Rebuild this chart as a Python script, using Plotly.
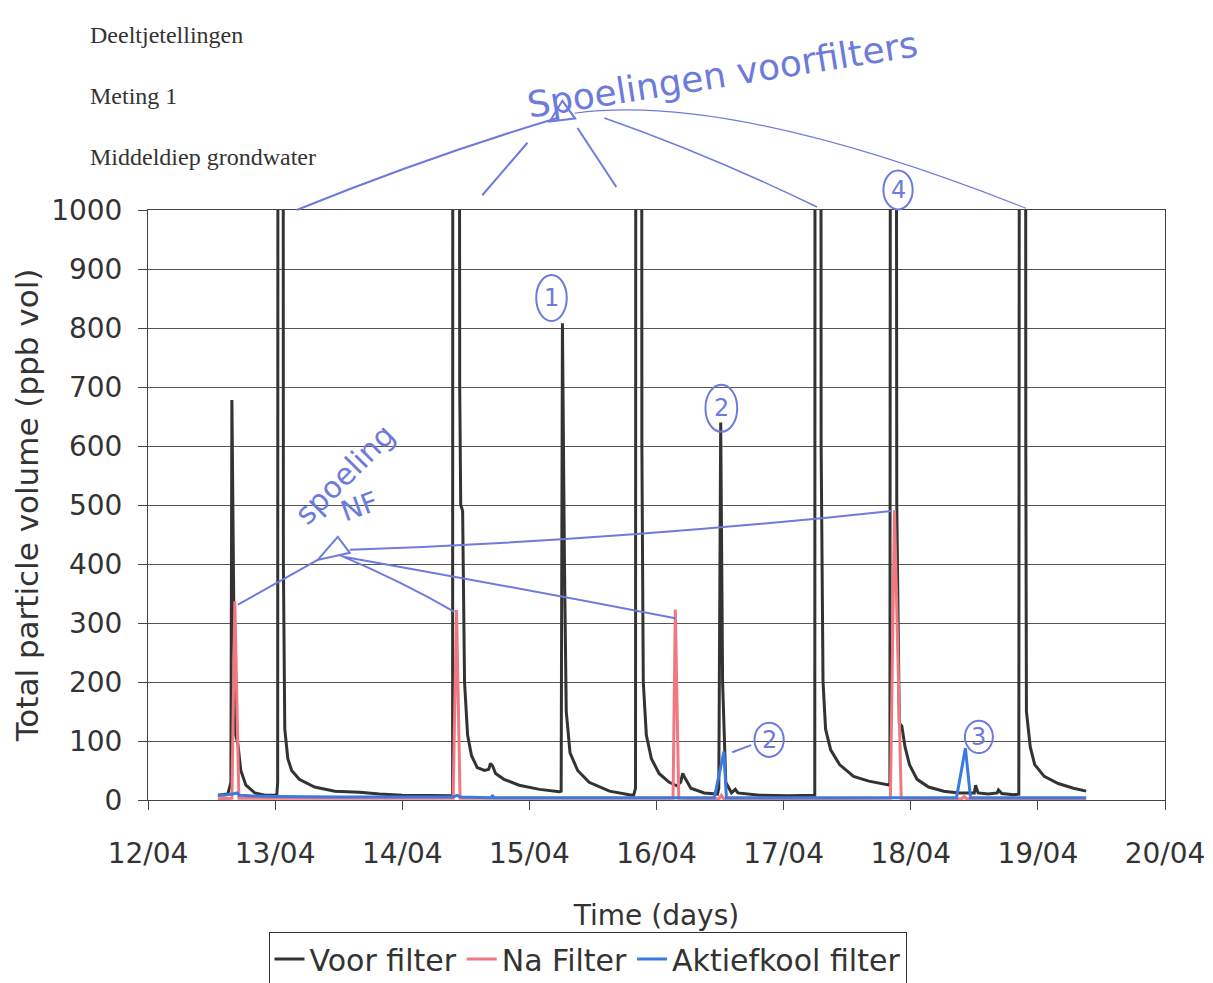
import pandas as pd
import plotly.graph_objects as go

# ---------------- data (days after 12/04 00:00, ppb vol) ----------------
voor_days = [0.55, 0.628, 0.652, 0.66, 0.676, 0.69, 0.707, 0.73, 0.77, 0.84, 0.92, 1.013,
             1.02, 1.025, 1.06, 1.065, 1.076, 1.10, 1.13, 1.19, 1.31, 1.47, 1.665, 1.82, 2.0,
             2.215, 2.396, 2.40, 2.443, 2.452, 2.46, 2.475, 2.49, 2.514, 2.545, 2.59, 2.647, 2.68,
             2.694, 2.71, 2.734, 2.80, 2.92, 3.08, 3.236, 3.25, 3.26, 3.276, 3.29, 3.32, 3.38,
             3.47, 3.63, 3.786, 3.82, 3.835, 3.84, 3.88, 3.885, 3.896, 3.92, 3.96, 4.02, 4.10,
             4.16, 4.19, 4.206, 4.23, 4.27, 4.375, 4.48, 4.49, 4.505, 4.52, 4.545, 4.59, 4.62,
             4.64, 4.81, 5.04, 5.245, 5.25, 5.29, 5.295, 5.31, 5.33, 5.37, 5.44, 5.55, 5.67,
             5.79, 5.836, 5.845, 5.88, 5.89, 5.91, 5.93, 5.955, 5.99, 6.05, 6.14, 6.26, 6.38,
             6.50, 6.51, 6.53, 6.61, 6.68, 6.69, 6.716, 6.81, 6.85, 6.86, 6.90, 6.905, 6.91,
             6.94, 6.975, 7.05, 7.16, 7.28, 7.38]
voor_vals = [8, 10, 30, 678, 300, 110, 95, 50, 25, 12, 8, 8,
             30, 3000, 3000, 400, 120, 70, 50, 35, 22, 15, 13, 10, 8,
             7, 7, 3000, 3000, 700, 500, 490, 200, 110, 75, 55, 50, 52,
             62, 58, 45, 35, 25, 18, 14, 15, 808, 400, 150, 80, 50,
             30, 15, 9, 8, 20, 3000, 3000, 600, 200, 110, 70, 45, 30,
             24, 30, 45, 35, 20, 12, 10, 20, 640, 200, 30, 12, 18,
             12, 8, 7, 8, 3000, 3000, 600, 200, 120, 85, 60, 40, 32,
             27, 25, 3000, 3000, 500, 130, 125, 90, 60, 35, 22, 15, 12,
             12, 25, 12, 10, 12, 17, 11, 9, 10, 3000, 3000, 600, 150,
             90, 60, 40, 28, 20, 15]

na_days = [0.55, 0.66, 0.683, 0.715, 2.40, 2.427, 2.455, 4.13, 4.148, 4.175, 4.49, 4.51,
           4.53, 5.84, 5.872, 5.925, 6.40, 6.42, 6.44, 7.38]
na_vals = [2, 3, 337, 3, 3, 322, 3, 3, 323, 3, 2, 8,
           2, 3, 491, 3, 2, 6, 2, 2]

ak_days = [0.55, 0.60, 0.66, 0.70, 0.72, 0.80, 1.00, 1.50, 2.40, 2.43, 2.46, 2.70, 2.71,
           2.72, 4.455, 4.53, 4.55, 6.36, 6.43, 6.47, 7.38]
ak_vals = [8, 8, 10, 12, 8, 7, 6, 5, 5, 8, 5, 4, 8,
           4, 4, 82, 4, 4, 88, 4, 4]

series_names = ["Voor filter", "Na Filter", "Aktiefkool filter"]
series_colors = ["#333333", "#f07880", "#3b7be0"]

header_lines = ["Deeltjetellingen", "Meting 1", "Middeldiep grondwater"]
x_title = "Time (days)"
y_title = "Total particle volume (ppb vol)"

base = pd.Timestamp("2006-04-12")
X_DAYS = 8.0
Y_MAX = 1000.0


def to_time(days):
    return base + pd.to_timedelta(days, unit="D")


fig = go.Figure()
for name, color, d, v in zip(series_names, series_colors,
                             [voor_days, na_days, ak_days],
                             [voor_vals, na_vals, ak_vals]):
    fig.add_trace(go.Scatter(x=to_time(d), y=v, mode="lines", name=name,
                             line=dict(color=color, width=3)))

# ---------------- handwritten pen annotations ----------------
PEN = "#6c7bdc"


def P(d, v):
    """(day, value) -> paper coordinates"""
    return d / X_DAYS, v / Y_MAX


def path(pts, curve=False):
    c = [P(*p) for p in pts]
    s = f"M {c[0][0]:.4f},{c[0][1]:.4f}"
    if curve and len(c) == 3:
        s += f" Q {c[1][0]:.4f},{c[1][1]:.4f} {c[2][0]:.4f},{c[2][1]:.4f}"
    else:
        for x, y in c[1:]:
            s += f" L {x:.4f},{y:.4f}"
    return s


shapes = []


def pen_path(pts, curve=False, w=2, close=False):
    s = path(pts, curve)
    if close:
        s += " Z"
    shapes.append(dict(type="path", xref="paper", yref="paper", path=s,
                       line=dict(color=PEN, width=w)))


# "Spoelingen voorfilters" leaders
pen_path([(1.17, 1000), (2.2, 1090), (3.22, 1156)], curve=True)
pen_path([(2.63, 1025), (2.985, 1114)])
pen_path([(3.684, 1039), (3.378, 1139)])
pen_path([(3.59, 1156), (4.4, 1095), (5.263, 1005)], curve=True, w=1.5)
pen_path([(3.354, 1164), (4.6, 1200), (6.905, 1003)], curve=True, w=1.2)
pen_path([(3.16, 1150), (3.26, 1185), (3.36, 1155)], close=True)
# "spoeling NF" leaders
pen_path([(0.707, 331), (1.335, 407)])
pen_path([(1.508, 415), (2.0, 370), (2.41, 319)], curve=True)
pen_path([(1.548, 412), (2.9, 360), (4.148, 308)], curve=True)
pen_path([(1.587, 424), (3.7, 440), (5.85, 490)], curve=True)
pen_path([(1.335, 407), (1.4925, 446), (1.587, 419)], close=True)
pen_path([(4.595, 81), (4.745, 93)])


def circle(d, v, wd, hv):
    x0, y0 = P(d - wd / 2, v - hv / 2)
    x1, y1 = P(d + wd / 2, v + hv / 2)
    shapes.append(dict(type="circle", xref="paper", yref="paper", x0=x0, y0=y0,
                       x1=x1, y1=y1, line=dict(color=PEN, width=2)))


circles = [("1", 3.174, 851, 0.24, 78), ("2", 4.51, 664, 0.25, 80),
           ("2", 4.886, 102, 0.23, 58), ("3", 6.536, 107, 0.22, 55),
           ("4", 5.90, 1034, 0.23, 66)]
annotations = []
for txt, d, v, wd, hv in circles:
    circle(d, v, wd, hv)
    x, y = P(d, v)
    annotations.append(dict(x=x, y=y, xref="paper", yref="paper", text=txt,
                            xanchor="center", yanchor="middle", showarrow=False,
                            font=dict(family="DejaVu Sans", size=24, color=PEN)))

for txt, d, v, ang, size in [("Spoelingen voorfilters", 4.52, 1230, -9, 36),
                             ("spoeling", 1.547, 551, -45, 30),
                             ("NF", 1.665, 497, -20, 28)]:
    x, y = P(d, v)
    annotations.append(dict(x=x, y=y, xref="paper", yref="paper", text=txt, textangle=ang,
                            xanchor="center", yanchor="middle", showarrow=False,
                            font=dict(family="DejaVu Sans", size=size, color=PEN)))

# header text (placed by pixel position in the page, converted to paper)
W, H = 1213, 983
ML, MR, MT, MB = 148, 48, 210, 183
pw, ph = W - ML - MR, H - MT - MB
for i, t in enumerate(header_lines):
    px, py = 88, 35 + 61 * i
    annotations.append(dict(x=(px - ML) / pw, y=(H - MB - py) / ph, xref="paper",
                            yref="paper", text=t, showarrow=False,
                            xanchor="left", yanchor="middle",
                            font=dict(family="Liberation Serif", size=24, color="#333333")))

axis_font = dict(family="DejaVu Sans", size=28, color="#333333")

fig.update_layout(
    width=W, height=H,
    margin=dict(l=ML, r=MR, t=MT, b=MB, autoexpand=False),
    paper_bgcolor="white", plot_bgcolor="white",
    shapes=shapes, annotations=annotations,
    showlegend=True,
    legend=dict(orientation="h", xref="container", yref="container",
                x=587.5 / W, xanchor="center", y=(H - 959) / H, yanchor="middle",
                bordercolor="#333333", borderwidth=1, bgcolor="white",
                font=dict(family="DejaVu Sans", size=30, color="#333333"),
                itemwidth=30, tracegroupgap=0),
    xaxis=dict(type="date", range=[to_time(0), to_time(X_DAYS)], dtick=86400000,
               tickformat="%d/%m", tickfont=axis_font, showgrid=False, automargin=False,
               ticks="outside", ticklen=9, tickcolor="#444", showline=True,
               linecolor="#444", linewidth=1, mirror=True,
               title=dict(text=x_title, font=axis_font, standoff=36),
               ticklabelstandoff=19),
    yaxis=dict(range=[0, Y_MAX], dtick=100, tickfont=axis_font, showgrid=True,
               gridcolor="#555555", gridwidth=1, ticks="outside", ticklen=9,
               tickcolor="#444", showline=True, linecolor="#444", linewidth=1, mirror=True,
               zeroline=False, automargin=False,
               title=dict(text=y_title, font=dict(family="DejaVu Sans", size=31,
                                                  color="#333333"), standoff=3),
               ticklabelstandoff=10),
)

fig.write_html("out.html")
